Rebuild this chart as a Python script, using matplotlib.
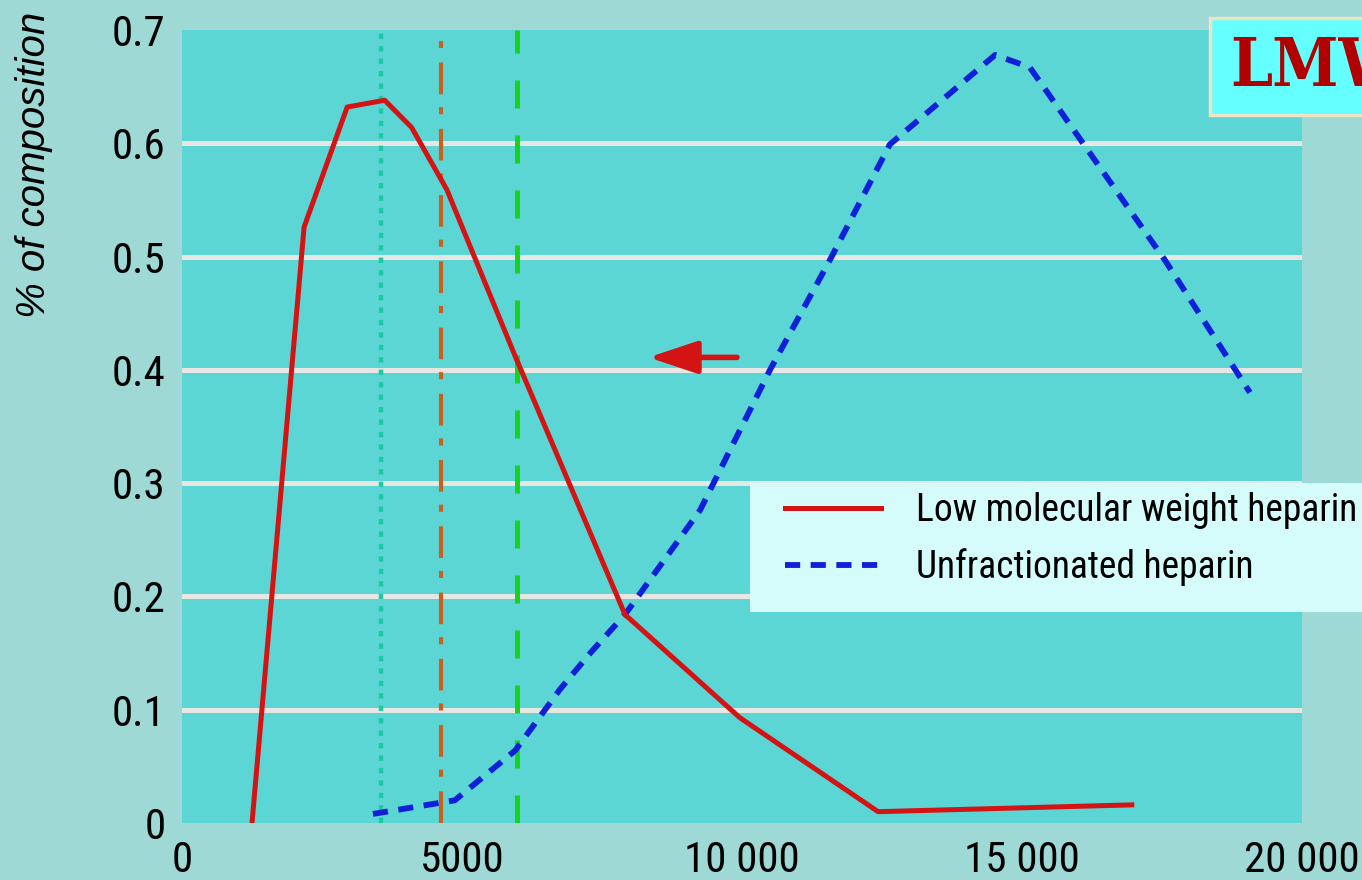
import matplotlib
matplotlib.use("Agg")
import matplotlib.pyplot as plt
from matplotlib.patches import Rectangle

# molecular weight (Da) vs fraction of composition
lmwh_mw = [1250, 2180, 2950, 3620, 4100, 4730, 5950, 7910, 9960, 12430, 16960]
lmwh_pct = [0.0, 0.526, 0.632, 0.638, 0.614, 0.559, 0.412, 0.184, 0.093, 0.010, 0.016]

ufh_mw = [3410, 4870, 5950, 6750, 7290, 7910, 9250, 10500, 11570, 12640, 14520, 15140, 17550, 19070]
ufh_pct = [0.008, 0.020, 0.064, 0.118, 0.150, 0.184, 0.276, 0.400, 0.497, 0.599, 0.678, 0.667, 0.497, 0.380]

# vertical reference markers
mark_dotted = 3550
mark_dashdot = 4620
mark_dashed = 5980

# shift arrow (from UFH towards LMWH)
arrow_from = 9910
arrow_to = 8330
arrow_y = 0.411

x_ticks = [0, 5000, 10000, 15000, 20000]
x_tick_labels = ["0", "5000", "10 000", "15 000", "20 000"]
y_ticks = [0, 0.1, 0.2, 0.3, 0.4, 0.5, 0.6, 0.7]
y_tick_labels = ["0", "0.1", "0.2", "0.3", "0.4", "0.5", "0.6", "0.7"]

narrow = ["Roboto Condensed", "PT Sans Narrow", "DejaVu Sans"]

fig = plt.figure(figsize=(13.62, 8.8), dpi=100, facecolor="#9ed9d6")
ax = fig.add_axes([182 / 1362, 57 / 880, 1120 / 1362, 793 / 880])
ax.set_facecolor("#5cd6d4")

for g in y_ticks[1:-1]:
    ax.axhline(g, color="#e6e6e2", lw=3.6, zorder=1)

ax.axvline(mark_dotted, color="#1cc9a0", lw=3.2, ls=(0, (1.2, 1.6)), zorder=2)
ax.axvline(mark_dashdot, color="#c8601e", lw=3.0, ls=(0, (7.6, 3.5, 1.7, 3.1)), zorder=2)
ax.axvline(mark_dashed, color="#18d21e", lw=3.6, ls=(0, (5.6, 5.4)), zorder=2)

ax.plot(lmwh_mw, lmwh_pct, color="#d41414", lw=3.6, zorder=4,
        label="Low molecular weight heparin")
ax.plot(ufh_mw, ufh_pct, color="#1020d8", lw=4.2, ls=(0, (2.6, 1.8)), zorder=3,
        label="Unfractionated heparin")

ax.annotate("", xy=(arrow_to, arrow_y), xytext=(arrow_from, arrow_y),
            arrowprops=dict(arrowstyle="-|>,head_length=1.5,head_width=0.5",
                            mutation_scale=20, color="#d41414", lw=4,
                            shrinkA=0, shrinkB=0), zorder=5)

ax.set_xlim(0, 20000)
ax.set_ylim(0, 0.7)
ax.set_xticks(x_ticks)
ax.set_xticklabels(x_tick_labels, family=narrow, fontsize=31)
ax.set_yticks(y_ticks)
ax.set_yticklabels(y_tick_labels, family=narrow, fontsize=31)
ax.tick_params(length=0, pad=12)
for s in ax.spines.values():
    s.set_visible(False)

# legend panel
ax.add_patch(Rectangle(((750 - 182) / 1120, (823 - 612) / 793), 0.6, 129 / 793,
                       transform=ax.transAxes, facecolor="#d6fbfb", edgecolor="none",
                       clip_on=False, zorder=6))
leg = ax.legend(loc="upper left", bbox_to_anchor=((785 - 182) / 1120, (823 - 492) / 793),
                frameon=False, prop=dict(family=narrow, size=27), handlelength=2.55,
                borderpad=0, borderaxespad=0, labelspacing=0.5, handletextpad=0.95)
leg.set_zorder(7)

fig.text(34 / 1362, 1 - 165 / 880, "% of composition", rotation=90, style="italic",
         fontsize=29, family=["Liberation Sans", "DejaVu Sans"], ha="center", va="center")

# LMWH tag in the top right corner
fig.patches.append(Rectangle((1210 / 1362, 1 - 115 / 880), 0.2, 97 / 880,
                             transform=fig.transFigure, facecolor="#66ffff",
                             edgecolor="#ece4c4", lw=2.5))
fig.text(1230 / 1362, 1 - 67 / 880, "LMWH", color="#b00000", fontsize=48,
         fontweight="bold", fontstretch="condensed", family=["DejaVu Serif"],
         va="center", ha="left")

fig.savefig("out.png", dpi=100, facecolor=fig.get_facecolor())
